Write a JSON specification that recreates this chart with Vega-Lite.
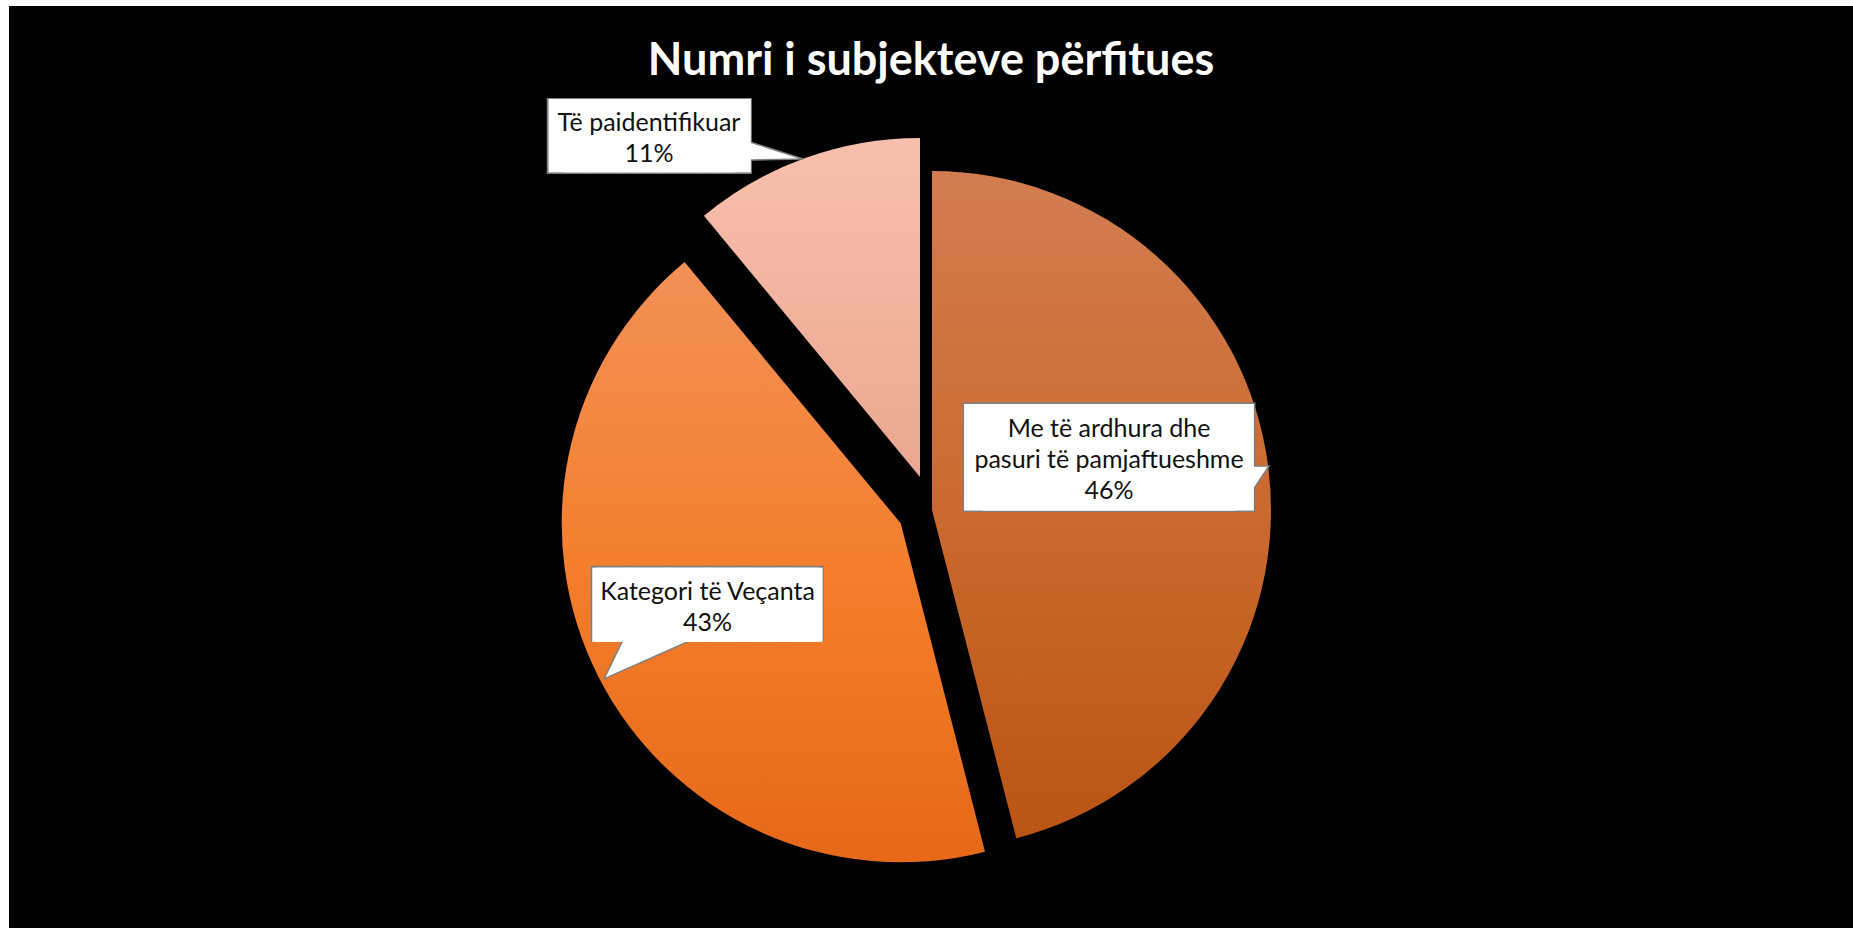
{
  "$schema": "https://vega.github.io/schema/vega-lite/v6.json",
  "width": 1844,
  "height": 922,
  "autosize": {"type": "none"},
  "padding": {"left": 9, "top": 6, "right": 0, "bottom": 0},
  "background": "#ffffff",
  "view": {"fill": "#000000", "stroke": null},
  "title": {"text": "Numri i subjekteve përfitues", "font": "Lato", "fontSize": 45, "fontWeight": "bold", "color": "#ffffff", "anchor": "middle", "frame": "group", "baseline": "alphabetic", "offset": -67, "dy": 46.5},
  "data": {"values": [
    {"category": "Me të ardhura dhe pasuri të pamjaftueshme", "value": 46, "rank": 1, "label": ["Me të ardhura dhe", "pasuri të pamjaftueshme", "46%"]},
    {"category": "Kategori të Veçanta", "value": 43, "rank": 2, "label": ["Kategori të Veçanta", "43%"]},
    {"category": "Të paidentifikuar", "value": 11, "rank": 3, "label": ["Të paidentifikuar", "11%"]}
  ]},
  "layer": [
    {
      "encoding": {
        "theta": {"field": "value", "type": "quantitative", "stack": true},
        "order": {"field": "rank", "type": "quantitative"}
      },
      "layer": [
        {"mark": {"type": "arc", "radius": 339, "xOffset": 1, "yOffset": 43, "fill": {"gradient": "linear", "x1": 0, "y1": 0, "x2": 0, "y2": 1, "stops": [{"offset": 0, "color": "#D27D51"}, {"offset": 0.5, "color": "#CB6A2F"}, {"offset": 1, "color": "#BB5415"}]}},
         "encoding": {"opacity": {"condition": {"test": "datum.rank === 1", "value": 1}, "value": 0}}},
        {"mark": {"type": "arc", "radius": 339, "xOffset": -30.3, "yOffset": 56.3, "fill": {"gradient": "linear", "x1": 0, "y1": 0, "x2": 0, "y2": 1, "stops": [{"offset": 0, "color": "#F29057"}, {"offset": 0.5, "color": "#F47F2D"}, {"offset": 1, "color": "#E66818"}]}},
         "encoding": {"opacity": {"condition": {"test": "datum.rank === 2", "value": 1}, "value": 0}}},
        {"mark": {"type": "arc", "radius": 339, "xOffset": -11, "yOffset": 10, "fill": {"gradient": "linear", "x1": 0, "y1": 0, "x2": 0, "y2": 1, "stops": [{"offset": 0, "color": "#F8C0AC"}, {"offset": 1, "color": "#EAA791"}]}},
         "encoding": {"opacity": {"condition": {"test": "datum.rank === 3", "value": 1}, "value": 0}}},

        {"mark": {"type": "text", "radius": 177.7, "text": "█████", "font": "DejaVu Sans Mono", "fontSize": 92.3, "align": "center", "baseline": "middle", "color": "#7F7F7F", "xOffset": -4.9, "yOffset": 16.0},
         "encoding": {"opacity": {"condition": {"test": "datum.rank === 1", "value": 1}, "value": 0}}},
        {"mark": {"type": "text", "radius": 177.7, "text": "█████", "font": "DejaVu Sans Mono", "fontSize": 92.3, "align": "center", "baseline": "middle", "color": "#7F7F7F", "xOffset": 8.3, "yOffset": 16.0},
         "encoding": {"opacity": {"condition": {"test": "datum.rank === 1", "value": 1}, "value": 0}}},
        {"mark": {"type": "text", "radius": 262.5, "text": "██████", "font": "DejaVu Sans Mono", "fontSize": 64.2, "align": "center", "baseline": "middle", "color": "#7F7F7F", "xOffset": 10.4, "yOffset": 21.2},
         "encoding": {"opacity": {"condition": {"test": "datum.rank === 2", "value": 1}, "value": 0}}},
        {"mark": {"type": "text", "radius": 406, "text": "█████", "font": "DejaVu Sans Mono", "fontSize": 64.1, "align": "center", "baseline": "middle", "color": "#7F7F7F", "xOffset": -149.5, "yOffset": 53.9},
         "encoding": {"opacity": {"condition": {"test": "datum.rank === 3", "value": 1}, "value": 0}}},
        {"mark": {"type": "text", "radius": 406, "text": "█████", "font": "DejaVu Sans Mono", "fontSize": 64.1, "align": "center", "baseline": "middle", "color": "#7F7F7F", "xOffset": -138.5, "yOffset": 53.9},
         "encoding": {"opacity": {"condition": {"test": "datum.rank === 3", "value": 1}, "value": 0}}}
      ]
    },
    {"transform": [{"filter": "datum.rank === 1"}],
     "mark": {"type": "arc", "theta": 3.730, "theta2": 4.712, "radius": 32, "radius2": 0, "fill": "#FFFFFF", "stroke": "#7F7F7F", "strokeWidth": 1.5, "xOffset": 338, "yOffset": -1},
     "encoding": {}},
    {"transform": [{"filter": "datum.rank === 2"}],
     "mark": {"type": "arc", "theta": 0.452, "theta2": 1.152, "radius": 98, "radius2": 0, "fill": "#FFFFFF", "stroke": "#7F7F7F", "strokeWidth": 1.5, "xOffset": -327, "yOffset": 212},
     "encoding": {}},
    {"transform": [{"filter": "datum.rank === 3"}],
     "mark": {"type": "arc", "theta": 4.693, "theta2": 5.023, "radius": 62, "radius2": 0, "fill": "#FFFFFF", "stroke": "#7F7F7F", "strokeWidth": 1.5, "xOffset": -128, "yOffset": -308},
     "encoding": {}},
    {
      "encoding": {
        "theta": {"field": "value", "type": "quantitative", "stack": true},
        "order": {"field": "rank", "type": "quantitative"}
      },
      "layer": [
        {"mark": {"type": "text", "radius": 177.7, "text": "█████", "font": "DejaVu Sans Mono", "fontSize": 89.7, "align": "center", "baseline": "middle", "color": "#FFFFFF", "xOffset": -7.3, "yOffset": 15.8},
         "encoding": {"opacity": {"condition": {"test": "datum.rank === 1", "value": 1}, "value": 0}}},
        {"mark": {"type": "text", "radius": 177.7, "text": "█████", "font": "DejaVu Sans Mono", "fontSize": 89.7, "align": "center", "baseline": "middle", "color": "#FFFFFF", "xOffset": 10.7, "yOffset": 15.8},
         "encoding": {"opacity": {"condition": {"test": "datum.rank === 1", "value": 1}, "value": 0}}},
        {"mark": {"type": "text", "radius": 177.7, "font": "Lato", "fontSize": 25, "lineHeight": 31, "align": "center", "baseline": "middle", "color": "#111111", "xOffset": 1.7, "yOffset": -15.7},
         "encoding": {"text": {"condition": {"test": "datum.rank === 1", "field": "label", "type": "nominal"}, "value": ""}}},

        {"mark": {"type": "text", "radius": 262.5, "text": "██████", "font": "DejaVu Sans Mono", "fontSize": 62.4, "align": "center", "baseline": "middle", "color": "#FFFFFF", "xOffset": 8.6, "yOffset": 21.1},
         "encoding": {"opacity": {"condition": {"test": "datum.rank === 2", "value": 1}, "value": 0}}},
        {"mark": {"type": "text", "radius": 262.5, "text": "██████", "font": "DejaVu Sans Mono", "fontSize": 62.4, "align": "center", "baseline": "middle", "color": "#FFFFFF", "xOffset": 12.2, "yOffset": 21.1},
         "encoding": {"opacity": {"condition": {"test": "datum.rank === 2", "value": 1}, "value": 0}}},
        {"mark": {"type": "text", "radius": 262.5, "font": "Lato", "fontSize": 25, "lineHeight": 31, "align": "center", "baseline": "middle", "color": "#111111", "xOffset": 10.4, "yOffset": 6.3},
         "encoding": {"text": {"condition": {"test": "datum.rank === 2", "field": "label", "type": "nominal"}, "value": ""}}},

        {"mark": {"type": "text", "radius": 406, "text": "█████", "font": "DejaVu Sans Mono", "fontSize": 61.5, "align": "center", "baseline": "middle", "color": "#FFFFFF", "xOffset": -151.95, "yOffset": 53.8},
         "encoding": {"opacity": {"condition": {"test": "datum.rank === 3", "value": 1}, "value": 0}}},
        {"mark": {"type": "text", "radius": 406, "text": "█████", "font": "DejaVu Sans Mono", "fontSize": 61.5, "align": "center", "baseline": "middle", "color": "#FFFFFF", "xOffset": -136.05, "yOffset": 53.8},
         "encoding": {"opacity": {"condition": {"test": "datum.rank === 3", "value": 1}, "value": 0}}},
        {"mark": {"type": "text", "radius": 406, "font": "Lato", "fontSize": 25, "lineHeight": 31, "align": "center", "baseline": "middle", "color": "#111111", "xOffset": -144.5, "yOffset": 37.8},
         "encoding": {"text": {"condition": {"test": "datum.rank === 3", "field": "label", "type": "nominal"}, "value": ""}}}
      ]
    }
  ]
}
